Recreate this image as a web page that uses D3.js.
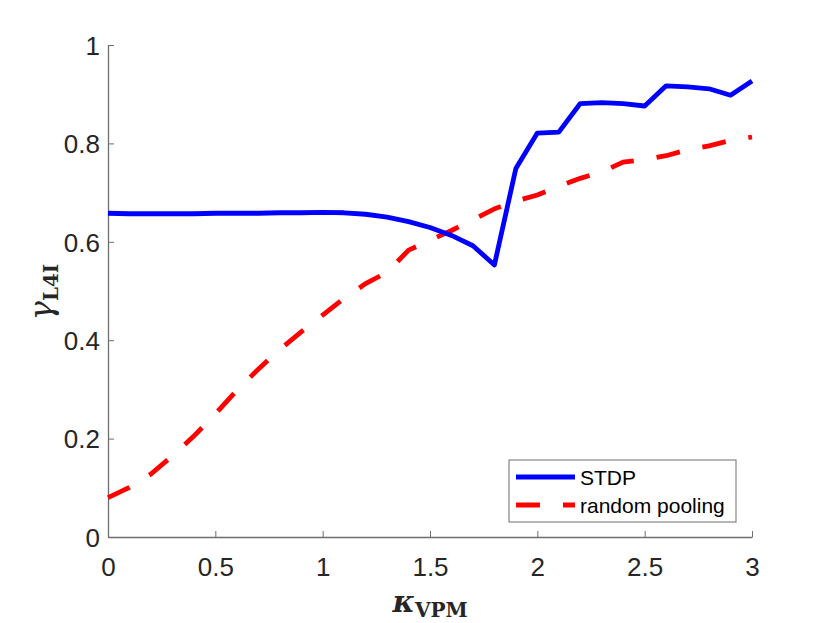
<!DOCTYPE html>
<html>
<head>
<meta charset="utf-8">
<script src="https://cdn.jsdelivr.net/npm/d3@7"></script>
<style>
  body { margin: 0; background: #fff; }
  svg { display: block; }
</style>
</head>
<body>
<div id="chart"></div>
<script>
// kappa values (x), 0 .. 3 in 0.1 steps
var kappa = [0, 0.1, 0.2, 0.3, 0.4, 0.5, 0.6, 0.7, 0.8, 0.9, 1.0,
             1.1, 1.2, 1.3, 1.4, 1.5, 1.6, 1.7, 1.8, 1.9, 2.0,
             2.1, 2.2, 2.3, 2.4, 2.5, 2.6, 2.7, 2.8, 2.9, 3.0];

var stdp = [0.658, 0.657, 0.657, 0.657, 0.657, 0.658, 0.658, 0.658, 0.659, 0.659, 0.660,
            0.659, 0.656, 0.650, 0.641, 0.629, 0.613, 0.592, 0.553, 0.749, 0.821,
            0.823, 0.881, 0.883, 0.881, 0.876, 0.917, 0.915, 0.911, 0.898, 0.927];

var randomPooling = [0.080, 0.101, 0.128, 0.165, 0.205, 0.250, 0.298, 0.341, 0.381, 0.417, 0.451,
                     0.485, 0.515, 0.538, 0.583, 0.603, 0.623, 0.645, 0.667, 0.683, 0.695,
                     0.713, 0.729, 0.742, 0.762, 0.767, 0.775, 0.787, 0.795, 0.806, 0.813];

var xTicks = [0, 0.5, 1, 1.5, 2, 2.5, 3];
var yTicks = [0, 0.2, 0.4, 0.6, 0.8, 1];
var legendLabels = ["STDP", "random pooling"];

var W = 830, H = 623;
var mLeft = 108, mRight = 752, mTop = 45, mBottom = 537;

var svg = d3.select("#chart").append("svg")
  .attr("width", W)
  .attr("height", H);

var x = d3.scaleLinear().domain([0, 3]).range([mLeft, mRight]);
var y = d3.scaleLinear().domain([0, 1]).range([mBottom, mTop]);

var axisColor = "#6e6e6e";
var textColor = "#262626";
var font = "'Liberation Sans', Arial, Helvetica, sans-serif";

// axes (ticks point inward)
var xAxis = svg.append("g")
  .attr("transform", "translate(0," + mBottom + ")")
  .call(d3.axisBottom(x).tickValues(xTicks).tickSizeInner(-6).tickSizeOuter(0)
    .tickFormat(d3.format("")).tickPadding(14));

var yAxis = svg.append("g")
  .attr("transform", "translate(" + mLeft + ",0)")
  .call(d3.axisLeft(y).tickValues(yTicks).tickSizeInner(-6).tickSizeOuter(0)
    .tickFormat(d3.format("")).tickPadding(8));

[xAxis, yAxis].forEach(function(a){
  a.select(".domain").attr("stroke", axisColor).attr("stroke-width", 1.3);
  a.selectAll(".tick line").attr("stroke", axisColor).attr("stroke-width", 1);
  a.selectAll(".tick text")
    .attr("fill", textColor)
    .style("font-family", font)
    .style("font-size", "26px");
});
xAxis.selectAll(".tick text").attr("dy", "0.95em");
yAxis.selectAll(".tick text").attr("dy", "0.36em");

// lines
var line = function(vals){
  return d3.line()
    .x(function(d, i){ return x(kappa[i]); })
    .y(function(d){ return y(d); })(vals);
};

svg.append("path")
  .attr("d", line(randomPooling))
  .attr("fill", "none")
  .attr("stroke", "#ff0000")
  .attr("stroke-width", 4.8)
  .attr("stroke-dasharray", "24,23");

svg.append("path")
  .attr("d", line(stdp))
  .attr("fill", "none")
  .attr("stroke", "#0000ff")
  .attr("stroke-width", 4.8)
  .attr("stroke-linejoin", "round");

// axis labels
var xl = svg.append("text")
  .attr("x", 430)
  .attr("y", 612)
  .attr("text-anchor", "middle")
  .attr("fill", textColor)
  .style("font-family", "'DejaVu Serif', serif");
xl.append("tspan").style("font-size", "30px").style("font-weight", "bold").style("font-style", "italic").text("κ");
xl.append("tspan").attr("dy", 5).style("font-size", "20px").style("font-weight", "bold").text("VPM");

var yl = svg.append("text")
  .attr("transform", "translate(52,292) rotate(-90)")
  .attr("text-anchor", "middle")
  .attr("fill", textColor)
  .style("font-family", "'DejaVu Serif', serif");
yl.append("tspan").style("font-size", "32px").style("font-style", "italic").text("γ");
yl.append("tspan").attr("dy", 6).style("font-size", "20px").style("font-weight", "bold").text("L4I");

// legend
var lg = svg.append("g").attr("transform", "translate(509,460)");
lg.append("rect")
  .attr("width", 227)
  .attr("height", 62)
  .attr("fill", "#fff")
  .attr("stroke", axisColor)
  .attr("stroke-width", 1);

var legendColors = ["#0000ff", "#ff0000"];
var legendDash = [null, "24,23"];
lg.selectAll("line.key")
  .data(legendLabels)
  .enter()
  .append("line")
  .attr("class", "key")
  .attr("x1", 7)
  .attr("x2", 66)
  .attr("y1", function(d, i){ return 17 + i * 28; })
  .attr("y2", function(d, i){ return 17 + i * 28; })
  .attr("stroke", function(d, i){ return legendColors[i]; })
  .attr("stroke-width", 4.8)
  .attr("stroke-dasharray", function(d, i){ return legendDash[i]; });

lg.selectAll("text")
  .data(legendLabels)
  .enter()
  .append("text")
  .attr("x", 71)
  .attr("y", function(d, i){ return 17 + i * 28; })
  .attr("dy", "0.36em")
  .attr("fill", "#000")
  .style("font-family", font)
  .style("font-size", "21px")
  .text(function(d){ return d; });
</script>
</body>
</html>
